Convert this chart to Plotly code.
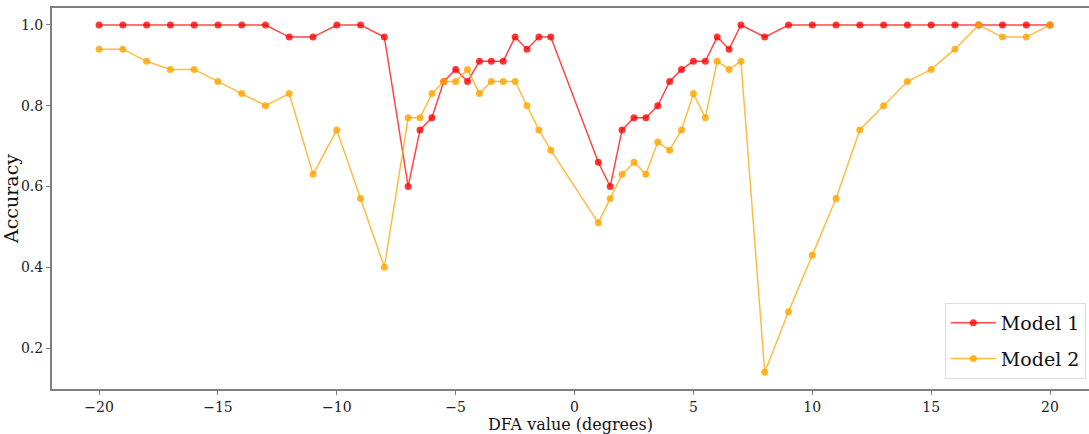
import plotly.graph_objects as go

dfa_values = [-20, -19, -18, -17, -16, -15, -14, -13, -12, -11, -10, -9, -8,
              -7, -6.5, -6, -5.5, -5, -4.5, -4, -3.5, -3, -2.5, -2, -1.5, -1,
              1, 1.5, 2, 2.5, 3, 3.5, 4, 4.5, 5, 5.5, 6, 6.5, 7,
              8, 9, 10, 11, 12, 13, 14, 15, 16, 17, 18, 19, 20]

model1_acc = [1.0, 1.0, 1.0, 1.0, 1.0, 1.0, 1.0, 1.0, 0.97, 0.97, 1.0, 1.0, 0.97,
              0.60, 0.74, 0.77, 0.86, 0.89, 0.86, 0.91, 0.91, 0.91, 0.97, 0.94, 0.97, 0.97,
              0.66, 0.60, 0.74, 0.77, 0.77, 0.80, 0.86, 0.89, 0.91, 0.91, 0.97, 0.94, 1.0,
              0.97, 1.0, 1.0, 1.0, 1.0, 1.0, 1.0, 1.0, 1.0, 1.0, 1.0, 1.0, 1.0]

model2_acc = [0.94, 0.94, 0.91, 0.89, 0.89, 0.86, 0.83, 0.80, 0.83, 0.63, 0.74, 0.57, 0.40,
              0.77, 0.77, 0.83, 0.86, 0.86, 0.89, 0.83, 0.86, 0.86, 0.86, 0.80, 0.74, 0.69,
              0.51, 0.57, 0.63, 0.66, 0.63, 0.71, 0.69, 0.74, 0.83, 0.77, 0.91, 0.89, 0.91,
              0.14, 0.29, 0.43, 0.57, 0.74, 0.80, 0.86, 0.89, 0.94, 1.0, 0.97, 0.97, 1.0]

x_ticks = [-20, -15, -10, -5, 0, 5, 10, 15, 20]
y_ticks = [0.2, 0.4, 0.6, 0.8, 1.0]

FONT = "DejaVu Serif"
SPINE = "#7f7f7f"

fig = go.Figure()
fig.add_trace(go.Scatter(
    x=dfa_values, y=model1_acc, name="Model 1", mode="lines+markers",
    legendgroup="m1",
    line=dict(color="rgba(255,0,0,0.72)", width=1.5),
    marker=dict(color="rgba(255,0,0,0.78)", size=7),
))
fig.add_trace(go.Scatter(
    x=dfa_values, y=model2_acc, name="Model 2", mode="lines+markers",
    legendgroup="m2",
    line=dict(color="rgba(255,165,0,0.75)", width=1.5),
    marker=dict(color="rgba(255,165,0,0.82)", size=7),
))

fig.update_layout(
    width=1089, height=434,
    margin=dict(l=52, r=0, t=8, b=45, autoexpand=False),
    paper_bgcolor="white", plot_bgcolor="white",
    font=dict(family=FONT, color="#222222"),
    showlegend=True,
    legend=dict(
        x=0.861, y=0.226, xanchor="left", yanchor="top",
        bgcolor="white", bordercolor="#dddddd", borderwidth=1,
        font=dict(family=FONT, size=19, color="#111111"),
        itemwidth=45, traceorder="grouped", tracegroupgap=8,
    ),
    xaxis=dict(
        range=[-21.98, 21.64], tickmode="array", tickvals=x_ticks,
        ticktext=[str(t).replace("-", "\u2212") for t in x_ticks],
        showgrid=False, zeroline=False, automargin=False,
        showline=True, linecolor=SPINE, linewidth=2, mirror=True,
        ticks="outside", ticklen=4, tickcolor=SPINE, tickwidth=1,
        tickfont=dict(family=FONT, size=14, color="#222222"),
        title=dict(text="DFA value (degrees)", font=dict(family=FONT, size=16, color="#111111"), standoff=4),
    ),
    yaxis=dict(
        range=[0.0985, 1.042], tickmode="array", tickvals=y_ticks,
        ticktext=["%.1f" % t for t in y_ticks],
        showgrid=False, zeroline=False, automargin=False,
        showline=True, linecolor=SPINE, linewidth=2, mirror=False,
        ticks="outside", ticklen=4, tickcolor=SPINE, tickwidth=1,
        tickfont=dict(family=FONT, size=14, color="#222222"),
        title=dict(text="Accuracy", font=dict(family=FONT, size=19, color="#111111"), standoff=0),
    ),
)

fig.write_html(
    "out.html",
    config={"displayModeBar": False},
    post_script="document.body.style.margin='0';document.body.style.overflow='hidden';",
)
